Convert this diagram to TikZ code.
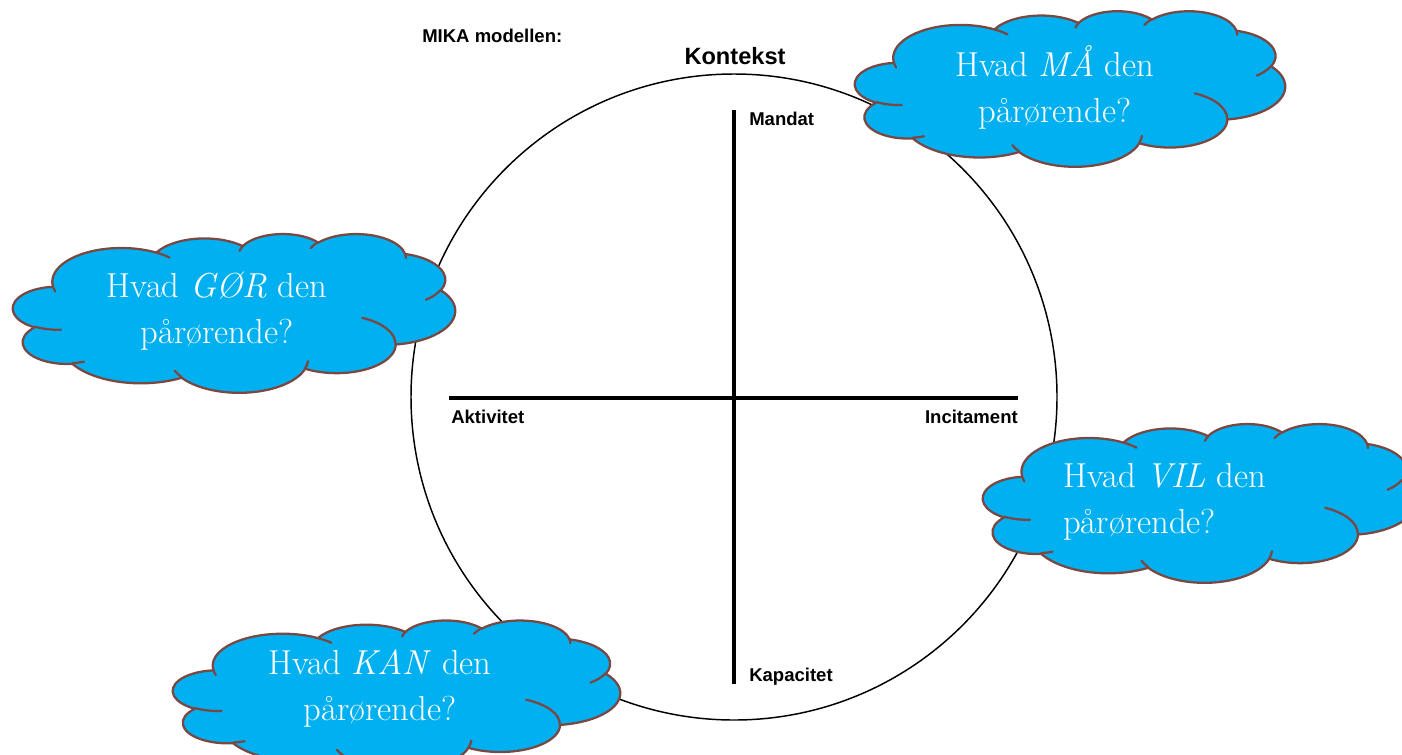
\documentclass[tikz,border=0pt]{standalone}
\usepackage{fontspec}
\newfontfamily\labelfont{Liberation Sans}
\definecolor{cloudblue}{RGB}{0,176,240}
\definecolor{cloudrim}{RGB}{122,72,66}

% visual -> parametric angles for the cloud arcs
\newcommand\setarc[5]{%
  \pgfmathsetmacro\arcA{atan2((#2)*sin(#4),(#3)*cos(#4))}%
  \pgfmathsetmacro\arcB{atan2((#2)*sin((#4)+(#5)),(#3)*cos((#4)+(#5)))}%
  \pgfmathsetmacro\arcD{\arcB-\arcA}%
  \pgfmathsetmacro\arcD{\arcD<0 ? \arcD+360 : \arcD}%
  \expandafter\xdef\csname cls#1\endcsname{\arcA}%
  \expandafter\xdef\csname cld#1\endcsname{\arcD}%
}
\setarc{oa}{6.753}{9.19}{-190.48748}{123.78053}
\setarc{ob}{5.333}{7.267}{-144.10238}{89.94523}
\setarc{oc}{4.365}{5.945}{-145.80792}{99.72302}
\setarc{od}{4.857}{6.595}{-130.98607}{117.24173}
\setarc{oe}{5.333}{7.273}{-78.70888}{109.02692}
\setarc{of}{6.775}{9.22}{-46.26725}{130.269}
\setarc{og}{5.785}{7.867}{0.62502}{114.03333}
\setarc{oh}{6.752}{9.215}{22.4516}{115.17255}
\setarc{oi}{7.72}{10.543}{66.24263}{75.71102}
\setarc{oj}{4.36}{5.918}{-274.94208}{146.73557}
\setarc{ok}{4.345}{5.945}{-246.8285}{152.51885}
\setarc{ia}{4.345}{5.945}{86.742}{26.4295}
\setarc{ib}{4.36}{5.918}{73.61047}{11.44747}
\setarc{ic}{6.752}{9.215}{137.62415}{14.0811}
\setarc{id}{6.752}{9.215}{6.45327}{15.99835}
\setarc{ie}{5.785}{7.867}{-70.29235}{70.9174}
\setarc{if}{5.333}{7.273}{30.31803}{27.7515}
\setarc{ig}{4.857}{6.595}{-13.74433}{14.8589}
\setarc{ih}{4.857}{6.595}{-149.18145}{18.19537}
\setarc{ii}{4.365}{5.945}{-163.49427}{17.68635}
\setarc{ij}{6.753}{9.19}{-66.70695}{12.31935}
\setarc{ik}{6.753}{9.19}{157.65435}{11.85817}

\tikzset{
  skycloud/.pic={
    \filldraw[fill=cloudblue, draw=cloudrim, line width=1.7pt, line join=round] (3.9,14.37)
      arc[x radius=6.753, y radius=9.19, start angle=\clsoa, delta angle=\cldoa]
      arc[x radius=5.333, y radius=7.267, start angle=\clsob, delta angle=\cldob]
      arc[x radius=4.365, y radius=5.945, start angle=\clsoc, delta angle=\cldoc]
      arc[x radius=4.857, y radius=6.595, start angle=\clsod, delta angle=\cldod]
      arc[x radius=5.333, y radius=7.273, start angle=\clsoe, delta angle=\cldoe]
      arc[x radius=6.775, y radius=9.22, start angle=\clsof, delta angle=\cldof]
      arc[x radius=5.785, y radius=7.867, start angle=\clsog, delta angle=\cldog]
      arc[x radius=6.752, y radius=9.215, start angle=\clsoh, delta angle=\cldoh]
      arc[x radius=7.72, y radius=10.543, start angle=\clsoi, delta angle=\cldoi]
      arc[x radius=4.36, y radius=5.918, start angle=\clsoj, delta angle=\cldoj]
      arc[x radius=4.345, y radius=5.945, start angle=\clsok, delta angle=\cldok]
      -- cycle;
    \draw[draw=cloudrim, line width=1.7pt, line cap=round]
      (4.693,26.177) arc[x radius=4.345, y radius=5.945, start angle=\clsia, delta angle=\cldia]
      (6.928,34.899) arc[x radius=4.36, y radius=5.918, start angle=\clsib, delta angle=\cldib]
      (16.478,39.09) arc[x radius=6.752, y radius=9.215, start angle=\clsic, delta angle=\cldic]
      (28.827,34.751) arc[x radius=6.752, y radius=9.215, start angle=\clsid, delta angle=\cldid]
      (34.129,22.954) arc[x radius=5.785, y radius=7.867, start angle=\clsie, delta angle=\cldie]
      (41.798,15.354) arc[x radius=5.333, y radius=7.273, start angle=\clsif, delta angle=\cldif]
      (38.324,5.426) arc[x radius=4.857, y radius=6.595, start angle=\clsig, delta angle=\cldig]
      (29.078,3.952) arc[x radius=4.857, y radius=6.595, start angle=\clsih, delta angle=\cldih]
      (22.141,4.72) arc[x radius=4.365, y radius=5.945, start angle=\clsii, delta angle=\cldii]
      (14.0,5.192) arc[x radius=6.753, y radius=9.19, start angle=\clsij, delta angle=\cldij]
      (4.127,15.789) arc[x radius=6.753, y radius=9.19, start angle=\clsik, delta angle=\cldik];
  }
}

\begin{document}
\begin{tikzpicture}[
            x=0.75pt, y=-0.75pt,
            cloudbox/.style 2 args={x=#1*0.017361pt, y=-#2*0.017361pt},
            cloudtext/.style={text=white, align=center, inner sep=0pt, font=\fontsize{26}{34}\selectfont},
            labelnode/.style={inner sep=0pt, font=\labelfont\bfseries\fontsize{13.9}{16}\selectfont},
            axisline/.style={line width=2.5pt},
            ]
            \useasboundingbox (0,0) rectangle (1402,754);
            \clip (0,0) rectangle (1402,754);

            \node[circle, draw=black, line width=1.1pt, minimum size=484.5pt, inner sep=0pt] (ring) at (734,397) {};

            \coordinate (top) at (734,110);
            \coordinate (bot) at (734,684);
            \coordinate (lft) at (449,398);
            \coordinate (rgt) at (1018,398);
            \draw[axisline] (top) -- (bot);
            \draw[axisline] (lft) -- (rgt);

            \node[labelnode, anchor=base west] (title)    at (422,42.7) {MIKA modellen:};
            \node[labelnode, anchor=base, font=\labelfont\bfseries\fontsize{17.7}{20}\selectfont] (kontekst) at (735,64) {Kontekst};
            \node[labelnode, anchor=base west] (mandat)   at (749,125.7) {Mandat};
            \node[labelnode, anchor=base west] (kapacitet) at (749,681.7) {Kapacitet};
            \node[labelnode, anchor=base west] (aktivitet) at (451,423.5) {Aktivitet};
            \node[labelnode, anchor=base east] (incitament) at (1018,423.5) {Incitament};

            \coordinate (cma)  at (855,10.7);
            \coordinate (cgor) at (13,233.5);
            \coordinate (cvil) at (983,423.5);
            \coordinate (ckan) at (173,620);
            \pic[cloudbox={430}{155.5}] at (cma)  {skycloud};
            \pic[cloudbox={442}{158.7}] at (cgor) {skycloud};
            \pic[cloudbox={433}{158.7}] at (cvil) {skycloud};
            \pic[cloudbox={447}{150}]   at (ckan) {skycloud};

            \node[cloudtext, anchor=base] (ma)  at (1055,122) {Hvad \textit{MÅ} den\\pårørende?};
            \node[cloudtext, anchor=base] (gor) at (217,343) {Hvad \textit{GØR} den\\pårørende?};
            \node[cloudtext, align=left, anchor=base west] (vil) at (1063,533) {Hvad \textit{VIL} den\\pårørende?};
            \node[cloudtext, anchor=base] (kan) at (380,720) {Hvad \textit{KAN} den\\pårørende?};
        \end{tikzpicture}
\end{document}
